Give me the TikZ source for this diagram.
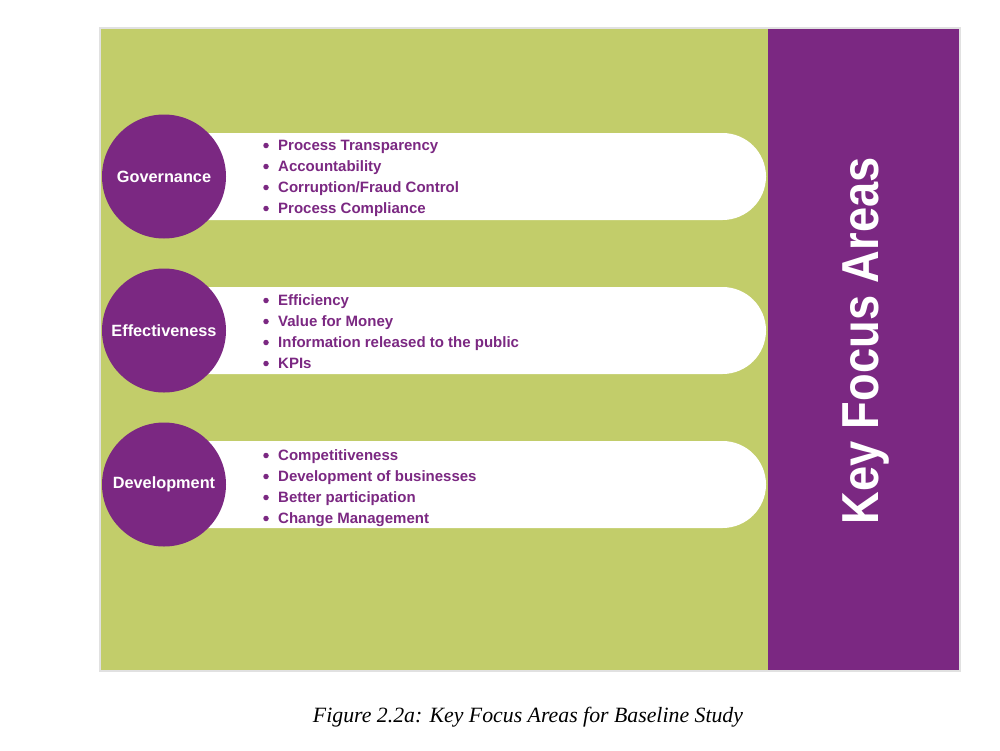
\documentclass[tikz,border=0pt]{standalone}
\usepackage{fontspec}
\setmainfont{Liberation Serif}
\setsansfont{Liberation Sans}
\newfontfamily\narrowfont[FakeStretch=0.87]{Liberation Sans}
\definecolor{kgreen}{RGB}{194,205,106}
\definecolor{kpurple}{RGB}{123,40,130}
\definecolor{kframe}{RGB}{225,225,225}
\tikzset{
  circ/.style={circle, fill=kpurple, minimum size=124pt, inner sep=0pt,
    text=white, font=\sffamily\bfseries\fontsize{16.3}{18}\selectfont},
  item/.style={anchor=base west, inner sep=0pt, text=kpurple,
    font=\sffamily\bfseries\fontsize{15}{16}\selectfont},
  bul/.style={circle, fill=kpurple, inner sep=0pt, minimum size=5.5pt},
}
\begin{document}
\begin{tikzpicture}[x=1pt,y=-1pt]
\useasboundingbox (0,0) rectangle (1000,750);
\fill[white] (0,0) rectangle (1000,750);
% frame
\draw[kframe, line width=1.5pt] (100,28) rectangle (960,671);
\fill[kgreen] (101,29) rectangle (768,670);
\fill[kpurple] (768,29) rectangle (959,670);
% pills and circles
\foreach \n/\lab/\cy in {gov/Governance/176.5, eff/Effectiveness/330.5, dev/Development/484.5}{
  \fill[white] (164,\cy-43.5) -- (722.5,\cy-43.5) arc[start angle=-90,end angle=90,radius=43.5] -- (164,\cy+43.5) -- cycle;
  \node[circ] (\n) at (164,\cy) {\lab};
}
% items
\foreach \t [count=\i] in {Process Transparency, Accountability, Corruption/Fraud Control, Process Compliance}{
  \node[bul] (gb\i) at (266,124.5+21*\i) {};
  \node[item] (gt\i) at (278,129.5+21*\i) {\t};
}
\foreach \t [count=\i] in {Efficiency, Value for Money, Information released to the public, KPIs}{
  \node[bul] (eb\i) at (266,279.5+21*\i) {};
  \node[item] (et\i) at (278,284.5+21*\i) {\t};
}
\foreach \t [count=\i] in {Competitiveness, Development of businesses, Better participation, Change Management}{
  \node[bul] (db\i) at (266,434.5+21*\i) {};
  \node[item] (dt\i) at (278,439.5+21*\i) {\t};
}
% title
\node[rotate=90, text=white, inner sep=0pt, font=\narrowfont\bfseries\fontsize{52}{56}\selectfont] (kfa) at (866,341) {Key Focus Areas};
% caption
\node[font=\itshape\fontsize{21.8}{24}\selectfont, inner sep=0pt] (cap) at (528,717) {Figure 2.2a: Key Focus Areas for Baseline Study};
\end{tikzpicture}
\end{document}
